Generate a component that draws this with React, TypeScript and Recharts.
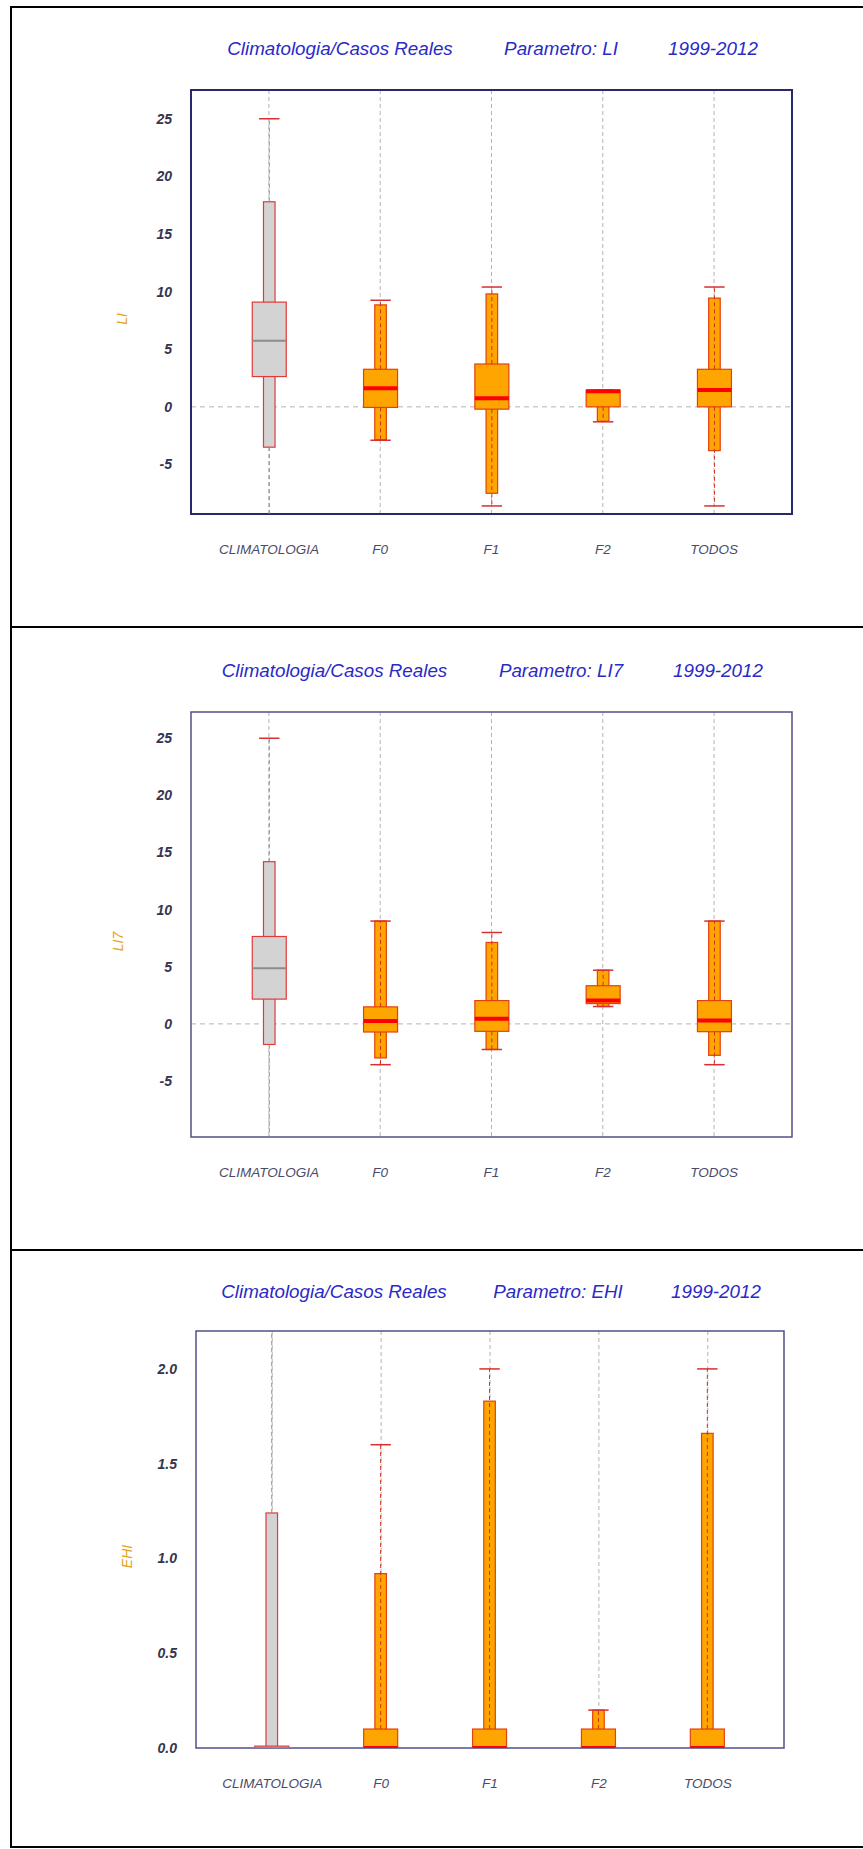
import { Bar, CartesianGrid, ComposedChart, ReferenceArea, XAxis, YAxis } from 'recharts'

const FONT = '"Liberation Sans", Arial, sans-serif'

const categories = ['CLIMATOLOGIA', 'F0', 'F1', 'F2', 'TODOS']
const catIndex = [0, 1, 2, 3, 4]
const xDomain: [number, number] = [-0.7, 4.7]

// LI: whisker ends, 10-90 band, quartiles and median per category
const liMin = [-12, -2.9, -8.6, -1.3, -8.6]
const liP10 = [-3.5, -2.85, -7.5, -1.25, -3.8]
const liQ1 = [2.63, -0.05, -0.2, 0, 0]
const liMed = [5.74, 1.61, 0.75, 1.35, 1.47]
const liQ3 = [9.09, 3.26, 3.72, 1.45, 3.26]
const liP90 = [17.8, 8.85, 9.8, 1.45, 9.44]
const liMax = [25, 9.25, 10.4, 1.45, 10.4]

// LI7
const li7Min = [-12, -3.57, -2.24, 1.52, -3.57]
const li7P10 = [-1.8, -2.98, -2.24, 1.52, -2.75]
const li7Q1 = [2.17, -0.71, -0.65, 1.78, -0.68]
const li7Med = [4.86, 0.25, 0.45, 2.04, 0.29]
const li7Q3 = [7.65, 1.49, 2.04, 3.34, 2.04]
const li7P90 = [14.2, 9.0, 7.13, 4.7, 9.0]
const li7Max = [25, 9.0, 8.0, 4.7, 9.0]

// EHI
const ehiMin = [0, 0, 0, 0, 0]
const ehiP10 = [0, 0, 0, 0, 0]
const ehiQ1 = [0, 0, 0, 0, 0]
const ehiMed = [0, 0, 0, 0, 0]
const ehiQ3 = [0.01, 0.1, 0.1, 0.1, 0.1]
const ehiP90 = [1.24, 0.92, 1.83, 0.2, 1.66]
const ehiMax = [3.0, 1.6, 2.0, 0.2, 2.0]

const liTicks = [-5, 0, 5, 10, 15, 20, 25]
const ehiTicks = [0, 0.5, 1, 1.5, 2]

type Row = {
  x: number
  range: [number, number]
  min: number
  p10: number
  q1: number
  med: number
  q3: number
  p90: number
  max: number
}

function makeRows(min: number[], p10: number[], q1: number[], med: number[], q3: number[], p90: number[], max: number[]): Row[] {
  return catIndex.map((i) => ({
    x: i,
    range: [min[i], max[i]],
    min: min[i],
    p10: p10[i],
    q1: q1[i],
    med: med[i],
    q3: q3[i],
    p90: p90[i],
    max: max[i],
  }))
}

function BoxShape(props: any) {
  const { x, y, width, height, payload } = props
  const d: Row = payload
  const top = Math.min(y, y + height)
  const bottom = Math.max(y, y + height)
  const k = (bottom - top) / (d.max - d.min)
  const py = (v: number) => top + (d.max - v) * k
  const cx = x + width / 2
  const clim = d.x === 0
  const fill = clim ? '#d3d3d3' : '#ffa500'
  const stroke = clim ? '#e03a3a' : '#e2420e'
  const whisk = clim ? '#8a8a8a' : '#d0301c'
  const nw = width * 0.34
  const cw = width * 0.6
  const hiFrom = clim ? d.p90 : d.q3
  const loFrom = clim ? d.p10 : d.q1
  return (
    <g>
      <rect x={cx - nw / 2} y={py(d.p90)} width={nw} height={Math.max(0, py(d.p10) - py(d.p90))} fill={fill} stroke={stroke} strokeWidth={1.2} />
      <rect x={x} y={py(d.q3)} width={width} height={Math.max(0, py(d.q1) - py(d.q3))} fill={fill} stroke={stroke} strokeWidth={1.2} />
      {d.max > hiFrom && <line x1={cx} x2={cx} y1={py(hiFrom)} y2={py(d.max)} stroke={whisk} strokeDasharray="4 3" />}
      {d.min < loFrom && <line x1={cx} x2={cx} y1={py(loFrom)} y2={py(d.min)} stroke={whisk} strokeDasharray="4 3" />}
      <line x1={cx - cw / 2} x2={cx + cw / 2} y1={py(d.max)} y2={py(d.max)} stroke="#d83030" strokeWidth={1.5} />
      <line x1={cx - cw / 2} x2={cx + cw / 2} y1={py(d.min)} y2={py(d.min)} stroke="#d83030" strokeWidth={1.5} />
      <line x1={x} x2={x + width} y1={py(d.med)} y2={py(d.med)} stroke={clim ? '#8c8c8c' : '#ff0000'} strokeWidth={clim ? 2 : 4} />
    </g>
  )
}

function AxisTitle(props: any) {
  const { viewBox, value, offsetX, offsetY } = props
  const cx = viewBox.x + offsetX
  const cy = viewBox.y + viewBox.height / 2 + offsetY
  return (
    <text x={cx} y={cy} transform={`rotate(-90 ${cx} ${cy})`} textAnchor="middle" dominantBaseline="central" fill="#e8a020" fontSize={14} fontStyle="italic">
      {value}
    </text>
  )
}

type PanelProps = {
  top: number
  height: number
  margin: { top: number; right: number; bottom: number; left: number }
  yWidth: number
  domain: [number, number]
  ticks: number[]
  fmt: (v: number) => string
  rows: Row[]
  titleY: number
  titles: { text: string; x: number }[]
  axisLabel: string
  labelX: number
  frame: string
  frameW: number
  zeroLine: boolean
}

function Panel(p: PanelProps) {
  return (
    <div style={{ position: 'absolute', left: 0, top: p.top, width: 863, height: p.height }}>
      {p.titles.map((t) => (
        <div
          key={t.text}
          style={{
            position: 'absolute',
            left: t.x,
            top: p.titleY - 11,
            transform: 'translateX(-50%)',
            whiteSpace: 'nowrap',
            fontSize: 18.8,
            lineHeight: '22px',
            fontStyle: 'italic',
            color: '#2a2ac8',
          }}
        >
          {t.text}
        </div>
      ))}
      <ComposedChart width={863} height={p.height} data={p.rows} margin={p.margin}>
        <CartesianGrid horizontal={false} verticalValues={catIndex} stroke="#b4b4b4" strokeDasharray="4 3" />
        {p.zeroLine && <CartesianGrid vertical={false} horizontalValues={[0]} stroke="#b4b4b4" strokeDasharray="5 4" />}
        <XAxis
          dataKey="x"
          type="number"
          domain={xDomain}
          ticks={catIndex}
          interval={0}
          tickFormatter={(v: number) => categories[v]}
          tickLine={false}
          tickSize={0}
          tickMargin={30}
          axisLine={false}
          tick={{ fill: '#4a4a6a', fontSize: 13.5, fontStyle: 'italic' }}
        />
        <YAxis
          type="number"
          domain={p.domain}
          allowDataOverflow
          ticks={p.ticks}
          interval={0}
          width={p.yWidth}
          tickFormatter={p.fmt}
          tickLine={false}
          tickSize={0}
          tickMargin={19}
          axisLine={false}
          tick={{ fill: '#34344f', fontSize: 14, fontStyle: 'italic', fontWeight: 'bold' }}
          label={<AxisTitle value={p.axisLabel} offsetX={p.labelX} offsetY={17} />}
        />
        <Bar dataKey="range" barSize={34} isAnimationActive={false} shape={(s: any) => <BoxShape {...s} />} />
        {/* plot frame */}
        <ReferenceArea
          x1={xDomain[0]}
          x2={xDomain[1]}
          y1={p.domain[0]}
          y2={p.domain[1]}
          ifOverflow="visible"
          fill="none"
          fillOpacity={0}
          stroke={p.frame}
          strokeWidth={p.frameW}
        />
      </ComposedChart>
    </div>
  )
}

const intFmt = (v: number) => String(v)
const decFmt = (v: number) => v.toFixed(1)

export default function App() {
  return (
    <div style={{ position: 'relative', width: 863, height: 1849, fontFamily: FONT, background: '#fff', overflow: 'hidden' }}>
      <style>{'body{margin:0}'}</style>
      <Panel
        top={0}
        height={627}
        margin={{ top: 90, right: 71, bottom: 83, left: 0 }}
        yWidth={191}
        domain={[-9.3, 27.5]}
        ticks={liTicks}
        fmt={intFmt}
        rows={makeRows(liMin, liP10, liQ1, liMed, liQ3, liP90, liMax)}
        titleY={49}
        titles={[
          { text: 'Climatologia/Casos Reales', x: 340 },
          { text: 'Parametro: LI', x: 561 },
          { text: '1999-2012', x: 713 },
        ]}
        axisLabel="LI"
        labelX={122}
        frame="#28286a"
        frameW={2}
        zeroLine
      />
      <Panel
        top={627}
        height={623}
        margin={{ top: 85, right: 71, bottom: 83, left: 0 }}
        yWidth={191}
        domain={[-9.9, 27.3]}
        ticks={liTicks}
        fmt={intFmt}
        rows={makeRows(li7Min, li7P10, li7Q1, li7Med, li7Q3, li7P90, li7Max)}
        titleY={43.5}
        titles={[
          { text: 'Climatologia/Casos Reales', x: 334.5 },
          { text: 'Parametro: LI7', x: 561 },
          { text: '1999-2012', x: 718 },
        ]}
        axisLabel="LI7"
        labelX={118}
        frame="#50508a"
        frameW={1.5}
        zeroLine
      />
      <Panel
        top={1250}
        height={599}
        margin={{ top: 81, right: 79, bottom: 71, left: 0 }}
        yWidth={196}
        domain={[0, 2.2]}
        ticks={ehiTicks}
        fmt={decFmt}
        rows={makeRows(ehiMin, ehiP10, ehiQ1, ehiMed, ehiQ3, ehiP90, ehiMax)}
        titleY={42}
        titles={[
          { text: 'Climatologia/Casos Reales', x: 334 },
          { text: 'Parametro: EHI', x: 558 },
          { text: '1999-2012', x: 716 },
        ]}
        axisLabel="EHI"
        labelX={127}
        frame="#50508a"
        frameW={1.5}
        zeroLine={false}
      />
      {/* outer frame and panel separators */}
      <div style={{ position: 'absolute', left: 10, top: 6, width: 2, height: 1842, background: '#000' }} />
      {[6, 626, 1249, 1846].map((y) => (
        <div key={y} style={{ position: 'absolute', left: 10, top: y, width: 853, height: 2, background: '#000' }} />
      ))}
    </div>
  )
}
